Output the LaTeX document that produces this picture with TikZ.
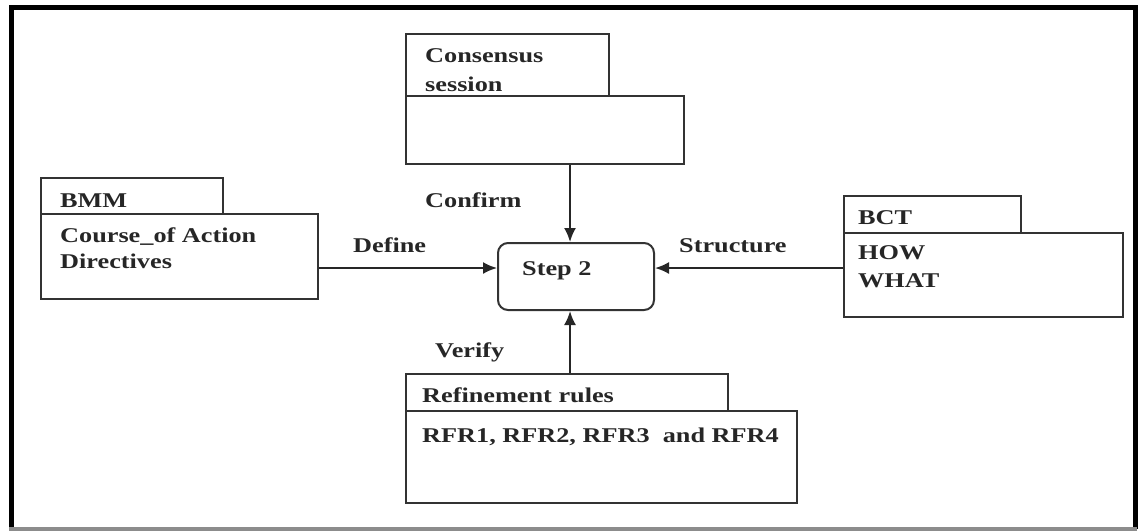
\documentclass[tikz,border=0pt]{standalone}
\usepackage{fontspec}
\newfontfamily\lbl[FakeStretch=1.25]{Liberation Serif}
\usetikzlibrary{arrows.meta}
\begin{document}
\begin{tikzpicture}[x=1pt,y=-1pt,
  box/.style={draw=black!80,line width=2pt,inner sep=0pt,anchor=north west},
  txt/.style={inner sep=0pt,anchor=base west,font=\lbl\bfseries\fontsize{21}{24}\selectfont,text=black!85},
  stepbox/.style={draw=black!80,line width=2pt,rounded corners=10pt,inner sep=0pt,anchor=north west,minimum width=156pt,minimum height=67pt},
  arr/.style={draw=black!85,line width=2pt,-{Latex[length=14pt,width=12pt]}}]
\useasboundingbox (0,0) rectangle (1139,531);
% outer frame
\draw[line width=5pt,black] (11,529) -- (11,7) -- (1135,7) -- (1135,529);
\draw[line width=4pt,black!45] (9,529) -- (1137,529);
% Consensus session
\node[box,minimum width=203pt,minimum height=62pt] (constab) at (405,33) {};
\node[box,minimum width=278pt,minimum height=68pt] (cons) at (405,95) {};
\node[txt] (t1) at (425,62) {Consensus};
\node[txt] (t2) at (425,91) {session};
% BMM
\node[box,minimum width=182pt,minimum height=36pt] (bmmtab) at (40,177) {};
\node[box,minimum width=277pt,minimum height=85pt] (bmm) at (40,213) {};
\node[txt] (t3) at (60,207) {BMM};
\node[txt] (t4) at (60,242) {Course\_of Action};
\node[txt] (t5) at (60,268) {Directives};
% BCT
\node[box,minimum width=177pt,minimum height=37pt] (bcttab) at (843,195) {};
\node[box,minimum width=279pt,minimum height=84pt] (bct) at (843,232) {};
\node[txt] (t6) at (858,224) {BCT};
\node[txt] (t7) at (858,259) {HOW};
\node[txt] (t8) at (858,287) {WHAT};
% Refinement rules
\node[box,minimum width=322pt,minimum height=37pt] (reftab) at (405,373) {};
\node[box,minimum width=391pt,minimum height=92pt] (ref) at (405,410) {};
\node[txt] (t9) at (422,402) {Refinement rules};
\node[txt] (t10) at (422,442) {RFR1, RFR2, RFR3 ~and RFR4};
% Step 2
\node[stepbox] (step) at (497,242) {};
\node[txt] (t11) at (522,275) {Step 2};
% connector labels
\node[txt] (l1) at (425,207) {Confirm};
\node[txt] (l2) at (353,252) {Define};
\node[txt] (l3) at (679,252) {Structure};
\node[txt] (l4) at (435,357) {Verify};
% connectors
\coordinate (cx) at (570,0);
\coordinate (ay) at (0,268);
\draw[arr] (cons.south -| cx) -- (step.north -| cx);
\draw[arr] (reftab.north -| cx) -- (step.south -| cx);
\draw[arr] (bmm.east |- ay) -- (step.west |- ay);
\draw[arr] (bct.west |- ay) -- (step.east |- ay);
\end{tikzpicture}
\end{document}
